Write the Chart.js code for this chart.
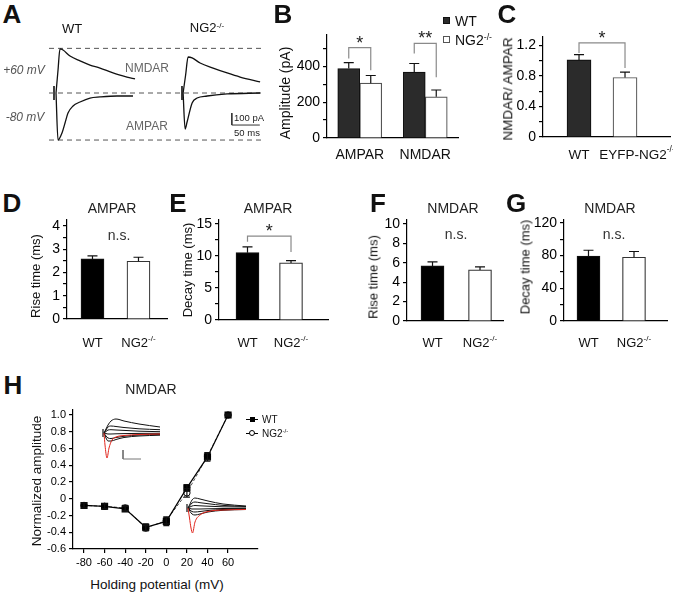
<!DOCTYPE html>
<html>
<head>
<meta charset="utf-8">
<title>AMPAR / NMDAR currents, WT vs NG2-/-</title>
<script src="https://cdn.jsdelivr.net/npm/chart.js@4.4.1/dist/chart.umd.min.js"></script>
<style>
  body { margin: 0; background: #fff; }
  #fig { position: relative; width: 673px; height: 598px; overflow: hidden; background: #fff;
         font-family: "Liberation Sans", Arial, Helvetica, sans-serif; color: #111; }
  #fig canvas { position: absolute; }
  .t { position: absolute; white-space: nowrap; line-height: 1; }
  .t sup { font-size: 0.62em; vertical-align: 0; position: relative; top: -0.55em; }
  .box { position: absolute; box-sizing: border-box; }
</style>
</head>
<body>
<div id="fig">
  <canvas id="cA"></canvas>
  <canvas id="cB"></canvas>
  <canvas id="cC"></canvas>
  <canvas id="cD"></canvas>
  <canvas id="cE"></canvas>
  <canvas id="cF"></canvas>
  <canvas id="cG"></canvas>
  <canvas id="cH"></canvas>
  <canvas id="cH1"></canvas>
  <canvas id="cH2"></canvas>
</div>
<script>
// ---------- data ----------
// A: example traces, time in ms, current in pA (outward positive)
const wtNmdaT  = [0, 3.6, 7.1, 12.5, 25, 42.9, 60.7, 78.6, 101.8, 126.8, 141.1];
const wtNmdaI  = [0, 192, 367, 358, 308, 267, 233, 208, 167, 133, 117];
const wtAmpaT  = [0, 3.6, 10.7, 16.1, 21.4, 30.4, 42.9, 60.7, 78.6, 108.9, 137.5];
const wtAmpaI  = [0, -392, -333, -250, -167, -108, -75, -42, -33, -25, -25];
const ng2NmdaT = [0, 4.5, 8.9, 16.1, 30.4, 53.6, 78.6, 101.8, 137.5];
const ng2NmdaI = [0, 150, 300, 292, 250, 208, 167, 133, 92];
const ng2AmpaT = [0, 3.6, 7.1, 16.1, 25, 42.9, 78.6, 137.5];
const ng2AmpaI = [0, -300, -242, -83, -42, -25, -8, 0];
const ng2Delay = 227;                 // NG2 traces sit to the right of WT
const stimTimes = [-3.6, 225];        // stimulus artefacts
const guideLevels = [372, 0, -392];   // dashed guides (pA)
const guideSpan = [-12.5, 368];
const scaleBarT = [314, 314, 364];    // 100 pA / 50 ms
const scaleBarI = [-167, -267, -267];

// B: amplitude (pA)
const bCategories = ['AMPAR', 'NMDAR'];
const bWT = [388, 368], bWTErr = [33, 48];
const bNG2 = [306, 230], bNG2Err = [43, 38];

// C: NMDAR / AMPAR ratio
const cLabels = ['WT', 'EYFP-NG2^-/-'];
const cValues = [1.01, 0.78], cErr = [0.07, 0.07];

// D-G: kinetics, WT vs NG2-/-
const groupLabels = ['WT', 'NG2^-/-'];
const dValues = [2.58, 2.48], dErr = [0.13, 0.17];   // AMPAR rise (ms)
const eValues = [10.5, 8.9],  eErr = [0.9, 0.35];    // AMPAR decay (ms)
const fValues = [5.67, 5.26], fErr = [0.41, 0.31];   // NMDAR rise (ms)
const gValues = [79.5, 78],   gErr = [7, 7];         // NMDAR decay (ms)

// H: NMDAR I-V
const hVolt   = [-80, -60, -40, -20, 0, 20, 40, 60];
const hWT     = [-0.08, -0.09, -0.12, -0.34, -0.27, 0.13, 0.50, 1.00];
const hWTErr  = [0.03, 0.03, 0.03, 0.04, 0.05, 0.04, 0.05, 0.01];
const hNG2    = [-0.08, -0.09, -0.11, -0.35, -0.26, 0.07, 0.51, 1.00];
const hNG2Err = [0.03, 0.03, 0.03, 0.03, 0.04, 0.05, 0.04, 0.01];
const hYTicks = [-0.6, -0.4, -0.2, 0, 0.2, 0.4, 0.6, 0.8, 1.0];

// H insets: families of traces (arbitrary units)
const insetUpT = [0, 2, 4, 7, 12, 20, 35, 56];
const insetUp = [
  [0, 4, 8, 12, 14, 12, 9, 6],
  [0, 3, 6, 7, 6.5, 5.5, 4.2, 3.3],
  [0, 1.5, 3, 3.3, 3, 2.6, 1.8, 1.3],
  [0, -0.5, -1, -1, -0.8, -0.6, -0.4, -0.3],
  [0, -3, -5, -5.5, -4.5, -3.3, -2, -1.5],
  [0, -5, -8, -8, -6.5, -4.5, -3, -2.2]
];
const insetUpRedT = [0, 1, 3, 5, 8, 12, 20, 35, 56];
const insetUpRed  = [0, -12, -25, -15, -7, -4, -2.5, -1.5, -1];
const insetLoT = [0, 2, 4, 7, 12, 20, 35, 58];
const insetLo = [
  [0, 4, 8, 10, 9, 7, 4, 2],
  [0, 2.5, 5, 6, 5.3, 4.3, 2.6, 1.5],
  [0, 1, 2, 2.5, 2.2, 1.8, 1.2, 1],
  [0, -0.5, -1, -1, -1, -0.8, -0.5, -0.4],
  [0, -2, -3.5, -4, -3.5, -2.5, -1.5, -1],
  [0, -3.5, -6, -7, -6, -4, -2.3, -1.5]
];
const insetLoRedT = [0, 1.5, 3, 4.5, 7, 12, 20, 35, 58];
const insetLoRed  = [0, -10, -20, -25, -14, -7, -3.5, -2, -1.5];
const insetBarT = [19, 19, 37];
const insetBarV = [-17, -26, -26];

// ---------- helpers ----------
const FONT = '"Liberation Sans", Arial, Helvetica, sans-serif';
Chart.defaults.font.family = FONT;
Chart.defaults.color = '#000';
const fig = document.getElementById('fig');

function sizeCanvas(id, left, top, w, h) {
  const c = document.getElementById(id);
  c.width = w; c.height = h;
  c.style.left = left + 'px'; c.style.top = top + 'px';
  c.style.width = w + 'px'; c.style.height = h + 'px';
  return c;
}

function txt(html, x, y, size, opt = {}) {
  const d = document.createElement('div');
  d.className = 't';
  d.innerHTML = html;
  d.style.left = x + 'px';
  d.style.top = y + 'px';
  d.style.fontSize = size + 'px';
  if (opt.bold) d.style.fontWeight = 'bold';
  if (opt.italic) d.style.fontStyle = 'italic';
  if (opt.color) d.style.color = opt.color;
  let tr = opt.left ? 'translate(0,-50%)' : 'translate(-50%,-50%)';
  if (opt.rot) tr += ' rotate(-90deg)';
  d.style.transform = tr;
  fig.appendChild(d);
}

function box(x, y, w, h, css) {
  const d = document.createElement('div');
  d.className = 'box';
  Object.assign(d.style, { left: x + 'px', top: y + 'px', width: w + 'px', height: h + 'px' }, css);
  fig.appendChild(d);
}

const pts = (xs, ys, dx = 0) => xs.map((x, i) => ({ x: x + dx, y: ys[i] }));

// label with optional superscript part after '^'
function drawRich(ctx, text, cx, cy, size) {
  const [base, sup] = text.split('^');
  const supSize = size * 0.62;
  ctx.font = size + 'px ' + FONT;
  const wb = ctx.measureText(base).width;
  let ws = 0;
  if (sup) { ctx.font = supSize + 'px ' + FONT; ws = ctx.measureText(sup).width; }
  const x0 = cx - (wb + ws) / 2;
  ctx.textAlign = 'left';
  ctx.textBaseline = 'middle';
  ctx.font = size + 'px ' + FONT;
  ctx.fillText(base, x0, cy);
  if (sup) { ctx.font = supSize + 'px ' + FONT; ctx.fillText(sup, x0 + wb, cy - size * 0.36); }
}

// ---------- inline plugins ----------
function errorBars(errs, cap, both) {
  return {
    id: 'errbars',
    afterDatasetsDraw(chart) {
      const ctx = chart.ctx, ys = chart.scales.y;
      ctx.save();
      ctx.strokeStyle = '#111';
      ctx.lineWidth = 1.2;
      errs.forEach((e, di) => {
        if (!e) return;
        const meta = chart.getDatasetMeta(di);
        const raw = chart.data.datasets[di].data;
        meta.data.forEach((el, j) => {
          const v = typeof raw[j] === 'object' ? raw[j].y : raw[j];
          const hi = ys.getPixelForValue(v + e[j]);
          const lo = both ? ys.getPixelForValue(v - e[j]) : el.y;
          ctx.beginPath();
          ctx.moveTo(el.x, lo); ctx.lineTo(el.x, hi);
          ctx.moveTo(el.x - cap / 2, hi); ctx.lineTo(el.x + cap / 2, hi);
          if (both) { ctx.moveTo(el.x - cap / 2, lo); ctx.lineTo(el.x + cap / 2, lo); }
          ctx.stroke();
        });
      });
      ctx.restore();
    }
  };
}

function brackets(items) {
  return {
    id: 'brackets',
    afterDatasetsDraw(chart) {
      const ctx = chart.ctx, ys = chart.scales.y;
      ctx.save();
      ctx.strokeStyle = '#8a8a8a';
      ctx.lineWidth = 1.2;
      ctx.fillStyle = '#222';
      ctx.font = '18px ' + FONT;
      ctx.textAlign = 'center';
      ctx.textBaseline = 'alphabetic';
      items.forEach(it => {
        const xa = chart.getDatasetMeta(it.a[0]).data[it.a[1]].x;
        const xb = chart.getDatasetMeta(it.b[0]).data[it.b[1]].x;
        const yt = ys.getPixelForValue(it.top);
        ctx.beginPath();
        ctx.moveTo(xa, ys.getPixelForValue(it.legA));
        ctx.lineTo(xa, yt); ctx.lineTo(xb, yt);
        ctx.lineTo(xb, ys.getPixelForValue(it.legB));
        ctx.stroke();
        ctx.fillText(it.text, (xa + xb) / 2, yt + 1);
      });
      ctx.restore();
    }
  };
}

function xLabels(labels, dy, size, dx) {
  return {
    id: 'xlabels',
    afterDraw(chart) {
      const ctx = chart.ctx, xs = chart.scales.x;
      ctx.save();
      ctx.fillStyle = '#111';
      labels.forEach((l, i) => drawRich(ctx, l, xs.getPixelForTick(i) + (dx ? dx[i] : 0), xs.top + dy, size));
      ctx.restore();
    }
  };
}

const axisBorder = { display: true, color: '#000', width: 1.2 };
const tickGrid = { display: true, drawOnChartArea: false, drawTicks: true, tickLength: 4, color: '#000', lineWidth: 1.2 };

// ---------- bar panels ----------
function barPanel(id, p) {
  const [l, t, r, b] = p.area;
  const yW = 40, padT = 12, padR = 3, xH = 30;
  const c = sizeCanvas(id, l - yW, t - padT, yW + (r - l) + padR, padT + (b - t) + xH);
  const linear = !p.categories;
  const datasets = p.series.map(s => ({
    data: linear ? pts(p.xs, s.values) : s.values,
    backgroundColor: s.fill,
    borderColor: s.edge,
    borderWidth: 1.2,
    barThickness: p.thickness
  }));
  const x = linear
    ? { type: 'linear', min: p.xMin, max: p.xMax, offset: false,
        afterBuildTicks: s => { s.ticks = p.xs.map(v => ({ value: v })); } }
    : { type: 'category', offset: true };
  Object.assign(x, {
    afterFit: s => { s.height = xH; },
    ticks: { display: false },
    grid: { display: false, drawTicks: false, offset: false },
    border: axisBorder
  });
  const yTicks = [];
  for (let k = 0; k * p.yStep <= p.yMax + 1e-9; k++) yTicks.push(Math.round(k * p.yStep * 1000) / 1000);
  new Chart(c, {
    type: 'bar',
    data: { labels: p.categories, datasets },
    options: {
      responsive: false, animation: false, events: [], devicePixelRatio: 1,
      layout: { padding: { top: padT, right: padR, left: 0, bottom: 0 } },
      plugins: { legend: { display: false }, tooltip: { enabled: false } },
      scales: {
        x,
        y: {
          min: 0, max: p.yMax,
          afterFit: s => { s.width = yW; },
          afterBuildTicks: s => { s.ticks = yTicks.map(v => ({ value: v })); },
          ticks: { autoSkip: false, padding: 3, font: { size: 14 }, color: '#000', callback: p.yFmt },
          grid: tickGrid,
          border: axisBorder
        }
      }
    },
    plugins: [errorBars(p.series.map(s => s.errors), 10, false),
              brackets(p.brackets || []),
              xLabels(p.labels, p.labelDy, p.labelSize, p.labelDx)]
  });
}

const every = (n, dec) => v => {
  const r = Math.round(v * 100) / 100;
  if (Math.abs(Math.round(r / n) * n - r) > 1e-6) return '';
  return r === 0 ? '0' : (dec ? r.toFixed(dec) : String(r));
};
const twoBars = (vals, errs, darkFill, lightEdge) => [{
  values: vals, errors: errs,
  fill: [darkFill, '#ffffff'], edge: ['#111', lightEdge]
}];

// B
barPanel('cB', {
  area: [327, 35, 458, 138], categories: bCategories, thickness: 22,
  yMax: 575, yStep: 100, yFmt: every(200),
  series: [
    { values: bWT, errors: bWTErr, fill: '#2b2b2b', edge: '#111' },
    { values: bNG2, errors: bNG2Err, fill: '#ffffff', edge: '#555' }
  ],
  brackets: [
    { a: [0, 0], b: [1, 0], top: 505, legA: 444, legB: 378, text: '*' },
    { a: [0, 1], b: [1, 1], top: 528, legA: 472, legB: 339, text: '**' }
  ],
  labels: bCategories, labelDy: 17, labelSize: 14
});

// C
barPanel('cC', {
  area: [543, 37, 670, 137], xs: [1, 2], xMin: 0.217, xMax: 2.978, thickness: 24,
  yMax: 1.31, yStep: 0.2, yFmt: every(0.4, 1),
  series: twoBars(cValues, cErr, '#2b2b2b', '#555'),
  brackets: [{ a: [0, 0], b: [0, 1], top: 1.233, legA: 1.10, legB: 0.905, text: '*' }],
  labels: cLabels, labelDy: 18, labelSize: 13.5, labelDx: [0, 12]
});

// D
barPanel('cD', {
  area: [67, 220, 167, 319], xs: [1, 2], xMin: 0.446, xMax: 2.62, thickness: 23,
  yMax: 4.25, yStep: 0.5, yFmt: every(1),
  series: twoBars(dValues, dErr, '#000', '#333'),
  labels: groupLabels, labelDy: 24, labelSize: 13
});

// E
barPanel('cE', {
  area: [219, 220, 328, 320], xs: [1, 2], xMin: 0.345, xMax: 2.85, thickness: 23,
  yMax: 15.6, yStep: 2.5, yFmt: every(5),
  series: twoBars(eValues, eErr, '#000', '#333'),
  brackets: [{ a: [0, 0], b: [0, 1], top: 13.1, legA: 12.2, legB: 10.6, text: '*' }],
  labels: groupLabels, labelDy: 23, labelSize: 13
});

// F
barPanel('cF', {
  area: [407, 220, 503, 321], xs: [1, 2], xMin: 0.463, xMax: 2.484, thickness: 23,
  yMax: 10.4, yStep: 2, yFmt: every(2),
  series: twoBars(fValues, fErr, '#000', '#333'),
  labels: groupLabels, labelDy: 22, labelSize: 13
});

// G
barPanel('cG', {
  area: [564, 220, 667, 321], xs: [1, 2], xMin: 0.462, xMax: 2.725, thickness: 23,
  yMax: 123.5, yStep: 20, yFmt: every(40),
  series: twoBars(gValues, gErr, '#000', '#333'),
  labels: groupLabels, labelDy: 22, labelSize: 13
});

// ---------- A: example traces ----------
(function () {
  const c = sizeCanvas('cA', 40, 40, 230, 110);
  const line = (data, extra) => Object.assign({
    data, showLine: true, pointRadius: 0, borderColor: '#111', borderWidth: 1.3,
    cubicInterpolationMode: 'monotone'
  }, extra);
  const datasets = [
    line(pts(wtNmdaT, wtNmdaI)),
    line(pts(wtAmpaT, wtAmpaI)),
    line(pts(ng2NmdaT, ng2NmdaI, ng2Delay)),
    line(pts(ng2AmpaT, ng2AmpaI, ng2Delay))
  ];
  guideLevels.forEach(g => datasets.push(line(guideSpan.map(x => ({ x, y: g })),
    { borderColor: '#555', borderWidth: 1, borderDash: [5, 4], cubicInterpolationMode: 'default' })));
  stimTimes.forEach(s => datasets.push(line([{ x: s, y: 58 }, { x: s, y: -58 }],
    { borderWidth: 1.6, cubicInterpolationMode: 'default' })));
  datasets.push(line(pts(scaleBarT, scaleBarI), { borderColor: '#333', borderWidth: 1, cubicInterpolationMode: 'default' }));
  new Chart(c, {
    type: 'scatter',
    data: { datasets },
    options: {
      responsive: false, animation: false, events: [], devicePixelRatio: 1,
      plugins: { legend: { display: false }, tooltip: { enabled: false } },
      scales: {
        x: { type: 'linear', display: false, min: -28.6, max: 382.2 },
        y: { display: false, min: -475, max: 441.7 }
      }
    }
  });
})();

// ---------- H: I-V ----------
(function () {
  const l = 73, t = 410, r = 258, b = 549;
  const yW = 40, padT = 10, padR = 10, xH = 25;
  const c = sizeCanvas('cH', l - yW, t - padT, yW + (r - l) + padR, padT + (b - t) + xH);
  new Chart(c, {
    type: 'line',
    data: {
      datasets: [
        { data: pts(hVolt, hWT), borderColor: '#000', borderWidth: 1.2, pointStyle: 'rect',
          pointRadius: 4.2, pointBackgroundColor: '#000', pointBorderColor: '#000' },
        { data: pts(hVolt, hNG2), borderColor: '#555', borderWidth: 1, borderDash: [3, 2],
          pointStyle: 'circle', pointRadius: 3.2, pointBackgroundColor: '#fff',
          pointBorderColor: '#000', pointBorderWidth: 1 }
      ]
    },
    options: {
      responsive: false, animation: false, events: [], devicePixelRatio: 1,
      layout: { padding: { top: padT, right: padR, left: 0, bottom: 0 } },
      plugins: { legend: { display: false }, tooltip: { enabled: false } },
      scales: {
        x: {
          type: 'linear', min: -90.7, max: 89.1,
          afterBuildTicks: s => { s.ticks = hVolt.map(v => ({ value: v })); },
          afterFit: s => { s.height = xH; },
          ticks: { font: { size: 11 }, color: '#000', padding: 3, autoSkip: false, maxRotation: 0 },
          grid: tickGrid, border: axisBorder
        },
        y: {
          min: -0.6, max: 1.06,
          afterFit: s => { s.width = yW; },
          afterBuildTicks: s => { s.ticks = hYTicks.map(v => ({ value: v })); },
          ticks: { autoSkip: false, font: { size: 11 }, color: '#000', padding: 3,
                   callback: v => (v === 0 ? '0' : v.toFixed(1)) },
          grid: tickGrid, border: axisBorder
        }
      }
    },
    plugins: [errorBars([hWTErr, hNG2Err], 6, true)]
  });
})();

// H insets
function insetChart(id, left, top, w, h, xMin, yMin, yMax, times, family, redT, red, bar) {
  const c = sizeCanvas(id, left, top, w, h);
  const line = (data, color, width) => ({
    data, showLine: true, pointRadius: 0, borderColor: color, borderWidth: width,
    cubicInterpolationMode: 'monotone'
  });
  const datasets = [line(pts(redT, red), '#e0241b', 1)];
  family.forEach(f => datasets.push(line(pts(times, f), '#111', 1)));
  datasets.push(line([{ x: -1, y: 4 }, { x: -1, y: -4 }], '#111', 1.2));
  if (bar) datasets.push(Object.assign(line(pts(bar[0], bar[1]), '#777', 1), { cubicInterpolationMode: 'default' }));
  new Chart(c, {
    type: 'scatter',
    data: { datasets },
    options: {
      responsive: false, animation: false, events: [], devicePixelRatio: 1,
      plugins: { legend: { display: false }, tooltip: { enabled: false } },
      scales: {
        x: { type: 'linear', display: false, min: xMin, max: xMin + w },
        y: { display: false, min: yMin, max: yMax }
      }
    }
  });
}
insetChart('cH1', 100, 410, 64, 55, -4, -32, 23, insetUpT, insetUp, insetUpRedT, insetUpRed, [insetBarT, insetBarV]);
insetChart('cH2', 184, 490, 68, 50, -4, -32, 18, insetLoT, insetLo, insetLoRedT, insetLoRed, null);

// ---------- text ----------
const L = 26;
txt('A', 12, 13.5, L, { bold: true });
txt('B', 283, 13.5, L, { bold: true });
txt('C', 507, 14, L, { bold: true });
txt('D', 12, 202.5, L, { bold: true });
txt('E', 178, 202.5, L, { bold: true });
txt('F', 378, 202.5, L, { bold: true });
txt('G', 516, 202.5, L, { bold: true });
txt('H', 13, 385, L, { bold: true });

// A annotations
txt('WT', 72, 28, 13);
txt('NG2<sup>-/-</sup>', 207, 28, 13);
txt('+60 mV', 24, 70, 12, { italic: true, color: '#555' });
txt('-80 mV', 25, 117, 12, { italic: true, color: '#555' });
txt('NMDAR', 147, 68, 12, { color: '#666' });
txt('AMPAR', 147, 126, 12, { color: '#666' });
txt('100 pA', 249, 118, 9.5, { color: '#222' });
txt('50 ms', 247, 133, 9.5, { color: '#222' });

// B legend + axis titles
box(443, 17, 7, 7, { background: '#2b2b2b', border: '1px solid #111' });
box(443, 36, 7, 7, { background: '#fff', border: '1px solid #555' });
txt('WT', 455, 20.5, 14, { left: true });
txt('NG2<sup>-/-</sup>', 455, 40, 14, { left: true });
txt('Amplitude (pA)', 285, 93, 14, { rot: true });
txt('NMDAR/ AMPAR', 508, 89, 13.5, { rot: true });

// D-G titles
txt('AMPAR', 112, 208, 14, { color: '#222' });
txt('AMPAR', 268, 208, 14, { color: '#222' });
txt('NMDAR', 453, 208, 14, { color: '#222' });
txt('NMDAR', 610, 208, 14, { color: '#222' });
txt('n.s.', 119, 235, 14, { color: '#333' });
txt('n.s.', 456, 234, 14, { color: '#333' });
txt('n.s.', 614, 234, 14, { color: '#333' });
txt('Rise time (ms)', 35, 276, 13, { rot: true });
txt('Decay time (ms)', 187, 270, 13, { rot: true });
txt('Rise time (ms)', 373, 277, 13, { rot: true });
txt('Decay time (ms)', 525, 267, 13, { rot: true });

// H titles + legend
txt('NMDAR', 151, 389, 14, { color: '#222' });
txt('Normalized amplitude', 37, 481, 13.5, { rot: true });
txt('Holding potential (mV)', 157, 585, 13.5);
box(246, 419, 12, 1, { background: '#000' });
box(249.5, 416.5, 5, 5, { background: '#000' });
txt('WT', 262, 419.5, 10, { left: true });
box(246, 433, 12, 1, { background: '#000' });
box(249, 430, 6, 6, { background: '#fff', border: '1px solid #000', borderRadius: '50%' });
txt('NG2<sup>-/-</sup>', 262, 433.5, 10, { left: true });
</script>
</body>
</html>
